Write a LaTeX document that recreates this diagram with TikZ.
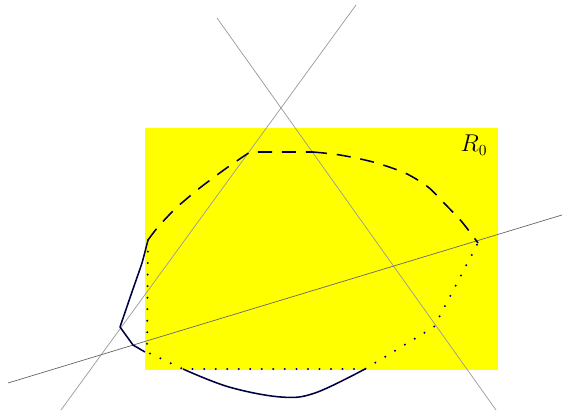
\documentclass[tikz,border=0pt]{standalone}
\usepackage{tikz}
\usepackage{xcolor}
\usepackage{amsmath}

\definecolor{regionYellow}{RGB}{255,255,0}

\begin{document}
\begin{tikzpicture}[
    x=0.025cm,
    y=-0.025cm,
    every node/.style={font=\fontsize{16}{19}\selectfont},
    cutLine/.style={
        line width=0.5pt,
        black!40
    },
    darkLine/.style={
        line width=0.5pt,
        black!60
    },
    solidPart/.style={
        line width=1.1pt,
        blue!25!black,
        line join=round
    },
    dashPart/.style={
        line width=1.1pt,
        blue!25!black,
        dash pattern=on 10pt off 7pt
    },
    dotPart/.style={
        line width=1.6pt,
        blue!50!black,
        line cap=round,
        dash pattern=on 0pt off 8.2pt
    }
]
\useasboundingbox (0,0) rectangle (562,415);

% region R_0
\fill[regionYellow] (145,128) rectangle (498,370);
\node (r0) at (474,145) {$R_0$};

% cutting lines
\coordinate (a1) at (61,410);
\coordinate (a2) at (356,5);
\coordinate (b1) at (217,18);
\coordinate (b2) at (496,410);
\coordinate (c1) at (8,383);
\coordinate (c2) at (562,215);

\draw[cutLine] (a1) -- (a2);
\draw[cutLine] (b1) -- (b2);
\draw[darkLine] (c1) -- (c2);

% corner points
\coordinate (p1) at (148,240);
\coordinate (p2) at (250,152);
\coordinate (p3) at (313,152);
\coordinate (p4) at (478,243);
\coordinate (p5) at (434,327);
\coordinate (p6) at (365,369);
\coordinate (p7) at (183,369);
\coordinate (p8) at (147,352);
\coordinate (p9) at (120,327);
\coordinate (p10) at (133,345);

% dashed part
\draw[dashPart] plot[smooth, tension=0.4] coordinates {(p1) (158,227) (176,208) (201,187) (228,167) (p2)}
    -- (p3)
    plot[smooth, tension=0.5] coordinates {(p3) (340,155) (373,162) (405,173) (428,187) (444,203) (462,222) (p4)};

% dotted part
\draw[dotPart] (p1) -- (p8) -- (p7) -- (p6) -- (p5) -- (p4);

% solid parts
\draw[solidPart] plot[smooth, tension=0.3] coordinates {(p1) (142,263) (133,289) (p9)}
    -- (p10) -- (145,352);
\draw[solidPart] plot[smooth, tension=0.6] coordinates {(p7) (229,387) (281,397) (315,393) (p6)};

\end{tikzpicture}
\end{document}
